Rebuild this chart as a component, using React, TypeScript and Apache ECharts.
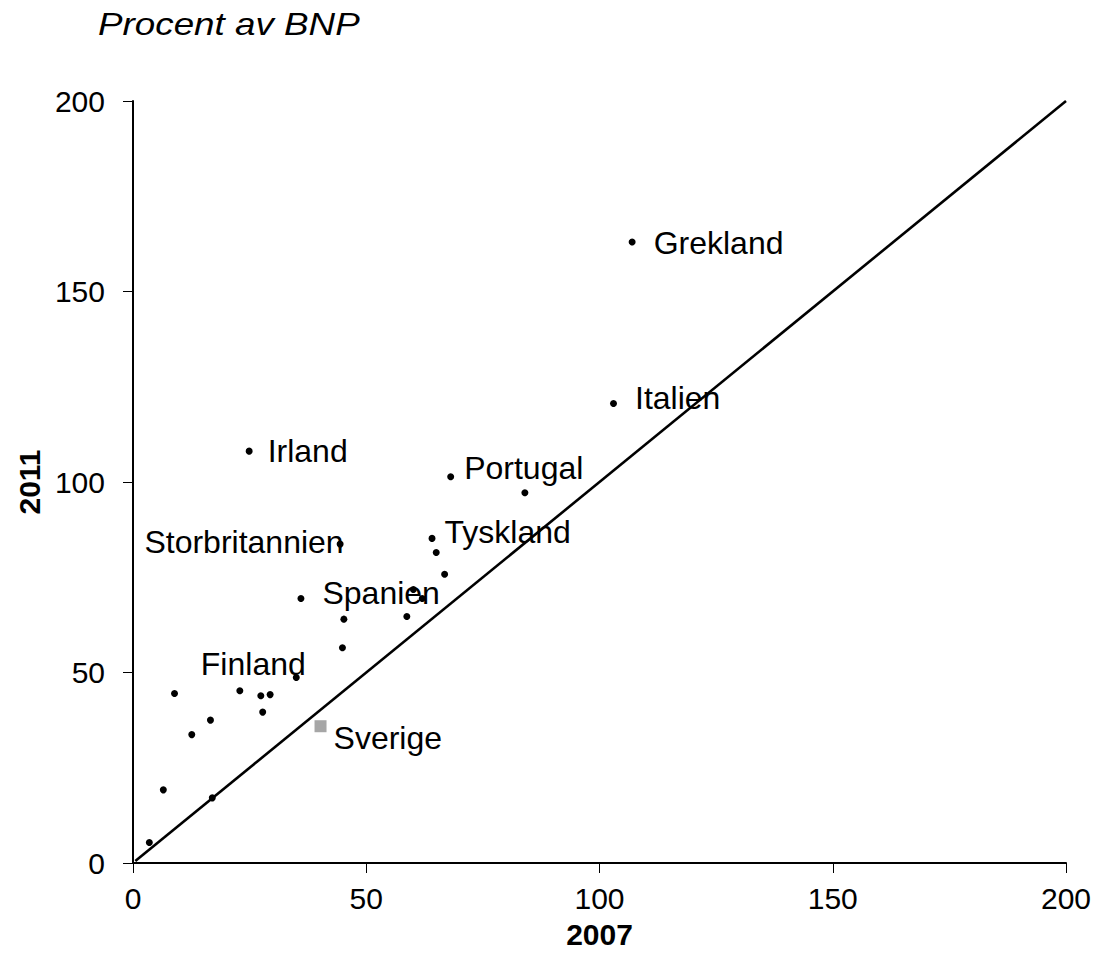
import React, { useEffect, useRef } from "react";
import * as echarts from "echarts";

const FONT = "'Liberation Sans', Arial, sans-serif";

const titleText = "Procent av BNP";
const xName = "2007";
const yName = "2011";
const axisTicks = [0, 50, 100, 150, 200];

// unlabelled countries: [2007, 2011]
const otherPoints: [number, number][] = [
  [3.5, 5.4],
  [6.5, 19.2],
  [17.0, 17.1],
  [12.6, 33.7],
  [16.6, 37.5],
  [8.9, 44.5],
  [22.9, 45.2],
  [27.4, 43.9],
  [29.4, 44.2],
  [27.8, 39.6],
  [44.9, 56.5],
  [45.2, 64.0],
  [58.7, 64.7],
  [60.1, 71.8],
  [62.0, 69.4],
  [66.8, 75.8],
  [65.0, 81.5],
  [84.0, 97.2],
];

const labelledNames = [
  "Finland",
  "Spanien",
  "Storbritannien",
  "Tyskland",
  "Portugal",
  "Irland",
  "Italien",
  "Grekland",
];
const labelled2007 = [35.0, 36.0, 44.4, 64.1, 68.1, 24.9, 103.0, 107.0];
const labelled2011 = [48.7, 69.4, 83.7, 85.2, 101.4, 108.1, 120.6, 163.0];

const swedenName = "Sverige";
const sweden: [number, number] = [40.2, 35.9];

const diagonal: [number, number][] = [
  [0.5, 0.5],
  [200, 200],
];

// label placement (style only)
const labelPlacement: Record<string, { position: string; distance: number; dy: number }> = {
  Finland: { position: "left", distance: -13, dy: -13 },
  Spanien: { position: "right", distance: 18, dy: -6 },
  Storbritannien: { position: "left", distance: -7, dy: -2 },
  Tyskland: { position: "right", distance: 9, dy: -6 },
  Portugal: { position: "right", distance: 10, dy: -9 },
  Irland: { position: "right", distance: 15, dy: 0 },
  Italien: { position: "right", distance: 18, dy: -6 },
  Grekland: { position: "right", distance: 18, dy: 1 },
};

const LABEL_SIZE = 32;

export default function App() {
  const ref = useRef<HTMLDivElement>(null);

  useEffect(() => {
    if (!ref.current) return;
    const chart = echarts.init(ref.current, undefined, { renderer: "svg" });

    const labelledData = labelledNames.map((n, i) => {
      const p = labelPlacement[n];
      return {
        name: n,
        value: [labelled2007[i], labelled2011[i]],
        label: {
          show: true,
          formatter: n,
          position: p.position,
          distance: p.distance,
          offset: [0, p.dy],
          color: "#000",
          opacity: 1,
          fontSize: LABEL_SIZE,
          fontFamily: FONT,
        },
      };
    });

    const axisCommon = {
      type: "value" as const,
      min: 0,
      max: 200,
      interval: 50,
      splitLine: { show: false },
      axisLine: { show: true, lineStyle: { color: "#000", width: 2 } },
      axisTick: { show: true, inside: false, length: 10, lineStyle: { color: "#000", width: 1 } },
      nameTextStyle: { color: "#000", fontSize: 30, fontWeight: "bold", fontFamily: FONT },
      nameLocation: "middle" as const,
    };

    chart.setOption({
      animation: false,
      backgroundColor: "#fff",
      textStyle: { fontFamily: FONT },
      graphic: [
        {
          type: "text",
          x: 98,
          y: 8,
          scaleX: 1.15,
          scaleY: 1,
          style: {
            text: titleText,
            fontSize: 32,
            fontStyle: "italic",
            fontFamily: FONT,
            fill: "#000",
            textVerticalAlign: "top",
          },
        },
      ],
      grid: { left: 133, right: 31, top: 101, bottom: 114, containLabel: false },
      xAxis: {
        ...axisCommon,
        name: xName,
        nameGap: 56,
        axisLabel: {
          color: "#000",
          fontSize: 30,
          fontFamily: FONT,
          margin: 20,
          formatter: (v: number) => (axisTicks.includes(v) ? String(v) : ""),
        },
      },
      yAxis: {
        ...axisCommon,
        name: yName,
        nameGap: 84,
        axisLabel: {
          color: "#000",
          fontSize: 30,
          fontFamily: FONT,
          margin: 28,
          formatter: (v: number) => (axisTicks.includes(v) ? String(v) : ""),
        },
      },
      series: [
        {
          type: "line",
          data: diagonal,
          showSymbol: false,
          symbol: "none",
          lineStyle: { color: "#000", width: 2.6 },
          silent: true,
          z: 1,
        },
        {
          type: "scatter",
          data: otherPoints,
          symbol: "circle",
          symbolSize: 7,
          itemStyle: { color: "#000", opacity: 1 },
          z: 3,
        },
        {
          type: "scatter",
          data: labelledData,
          symbol: "circle",
          symbolSize: 7,
          itemStyle: { color: "#000", opacity: 1 },
          z: 3,
        },
        {
          type: "scatter",
          data: [
            {
              name: swedenName,
              value: sweden,
              label: {
                show: true,
                formatter: swedenName,
                position: "right",
                distance: 7,
                offset: [0, 12],
                color: "#000",
                opacity: 1,
                fontSize: LABEL_SIZE,
                fontFamily: FONT,
              },
            },
          ],
          symbol: "rect",
          symbolSize: 12,
          itemStyle: { color: "#a6a6a6", opacity: 1 },
          z: 3,
        },
      ],
    });

    return () => chart.dispose();
  }, []);

  return (
    <div
      ref={ref}
      style={{ position: "absolute", left: 0, top: 0, width: 1097, height: 977 }}
    />
  );
}
